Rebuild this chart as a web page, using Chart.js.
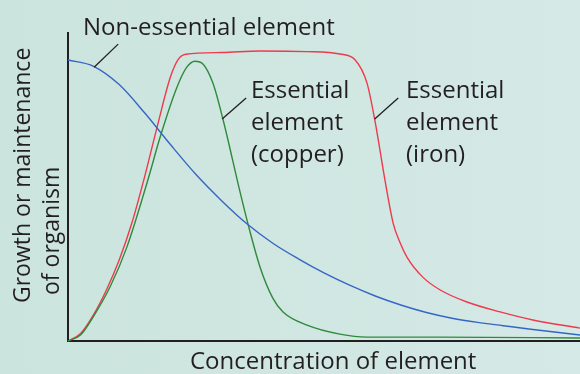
<!DOCTYPE html>
<html>
<head>
<meta charset="utf-8">
<script src="https://cdn.jsdelivr.net/npm/chart.js@4.4.0/dist/chart.umd.min.js"></script>
<style>
  html, body { margin: 0; padding: 0; background: #cfe5e0; }
  #wrap { width: 580px; height: 374px; }
  canvas { display: block; }
</style>
</head>
<body>
<div id="wrap"><canvas id="c" width="580" height="374"></canvas></div>
<script>
// Concentration (0–100, relative) and growth response (0–100, relative) for each element.
const nonEssentialX = [0, 5, 10, 15, 20, 25, 30, 35, 40, 45, 50, 55, 60, 65, 70, 75, 80, 85, 90, 95, 100];
const nonEssentialY = [93.7, 91.6, 85.5, 76, 65.5, 55.5, 46.8, 39, 32.6, 27.4, 22.7, 18.6, 15, 12, 9.5, 7.6, 6.2, 5.1, 4, 3, 2];

const copperX = [0, 2.5, 4.9, 8.2, 11.5, 15.6, 18, 21.3, 23.2, 24.8, 26.4, 28.3, 30.3, 33.6, 35.2, 37.5, 40, 42, 46.7, 53.1, 58.4, 72.7, 100];
const copperY = [0, 2.1, 8, 18, 31.3, 53.7, 68, 84.7, 91.3, 93.3, 92.3, 86, 73.7, 49.7, 38.7, 24.7, 14.3, 9.7, 5.3, 2.3, 1.3, 1.3, 1];

const ironX = [0, 2.5, 5, 7.5, 10, 12.5, 15, 17.5, 20, 21.5, 23, 30, 37.5, 46.7, 53.1, 56.1, 58.4, 60, 61.9, 63.5, 64.8, 66.2, 69.3, 72.7, 77.9, 84.4, 90.8, 100];
const ironY = [0, 2.6, 8.8, 17, 27, 39.5, 55, 72, 88, 93.8, 95.6, 96.2, 96.7, 96.5, 95.7, 93.7, 86, 73, 53.7, 39.3, 33, 28, 21.3, 17, 13, 9.7, 7, 4.3];

// Label texts and where their pointer lines touch the curves (data units).
const axisTitleX = 'Concentration of element';
const axisTitleY = ['Growth or maintenance', 'of organism'];
const labelNonEssential = ['Non-essential element'];
const labelCopper = ['Essential', 'element', '(copper)'];
const labelIron = ['Essential', 'element', '(iron)'];
const pointerNonEssential = [{ x: 5.1, y: 91.3 }, { x: 9.8, y: 99 }];
const pointerCopper = [{ x: 30.1, y: 74 }, { x: 34.8, y: 81 }];
const pointerIron = [{ x: 59.9, y: 74 }, { x: 64.5, y: 81 }];

const INK = '#231f20';
const FONT_FAMILY = '"Open Sans", "Liberation Sans", sans-serif';

function pairs(xs, ys) { return xs.map((x, i) => ({ x: x, y: ys[i] })); }

const backdrop = {
  id: 'backdrop',
  beforeDraw(chart) {
    const ctx = chart.ctx;
    const g = ctx.createLinearGradient(0, 0, chart.width, 0);
    g.addColorStop(0, 'rgb(203,228,221)');
    g.addColorStop(1, 'rgb(213,233,230)');
    ctx.save();
    ctx.fillStyle = g;
    ctx.fillRect(0, 0, chart.width, chart.height);
    ctx.restore();
  }
};

const annotations = {
  id: 'annotations',
  afterDraw(chart) {
    const ctx = chart.ctx;
    const xs = chart.scales.x, ys = chart.scales.y;
    ctx.save();
    ctx.strokeStyle = INK;
    ctx.lineWidth = 1.3;
    [pointerNonEssential, pointerCopper, pointerIron].forEach(p => {
      ctx.beginPath();
      ctx.moveTo(xs.getPixelForValue(p[0].x), ys.getPixelForValue(p[0].y));
      ctx.lineTo(xs.getPixelForValue(p[1].x), ys.getPixelForValue(p[1].y));
      ctx.stroke();
    });

    ctx.fillStyle = INK;
    ctx.font = '24px ' + FONT_FAMILY;
    ctx.textBaseline = 'alphabetic';
    ctx.textAlign = 'left';
    const block = (lines, x, y0) => lines.forEach((t, i) => ctx.fillText(t, x, y0 + i * 32));
    block(labelNonEssential, 83, 35);
    block(labelCopper, 251, 98);
    block(labelIron, 406, 98);
    ctx.fillText(axisTitleX, 190, 369);

    ctx.save();
    ctx.font = '23px ' + FONT_FAMILY;
    ctx.rotate(-Math.PI / 2);
    ctx.fillText(axisTitleY[0], -303, 30);
    ctx.fillText(axisTitleY[1], -295, 59);
    ctx.restore();
    ctx.restore();
  }
};

const lineStyle = { borderWidth: 1.4, pointRadius: 0, fill: false, cubicInterpolationMode: 'monotone', clip: false };

new Chart(document.getElementById('c'), {
  type: 'line',
  data: {
    datasets: [
      Object.assign({ label: 'Non-essential element', data: pairs(nonEssentialX, nonEssentialY), borderColor: '#3566c6' }, lineStyle),
      Object.assign({ label: 'Essential element (copper)', data: pairs(copperX, copperY), borderColor: '#2e8a3c' }, lineStyle),
      Object.assign({ label: 'Essential element (iron)', data: pairs(ironX, ironY), borderColor: '#ee3a4c' }, lineStyle)
    ]
  },
  options: {
    responsive: false,
    animation: false,
    events: [],
    layout: { padding: { left: 68, right: 0, top: 33, bottom: 33 } },
    plugins: { legend: { display: false }, tooltip: { enabled: false } },
    scales: {
      x: {
        type: 'linear', min: 0, max: 100,
        ticks: { display: false }, grid: { display: false },
        border: { display: true, color: INK, width: 2 },
        afterFit(s) { s.height = 0; }
      },
      y: {
        type: 'linear', min: 0, max: 102.7,
        ticks: { display: false }, grid: { display: false },
        border: { display: true, color: INK, width: 2 },
        afterFit(s) { s.width = 0; }
      }
    }
  },
  plugins: [backdrop, annotations]
});
</script>
</body>
</html>
